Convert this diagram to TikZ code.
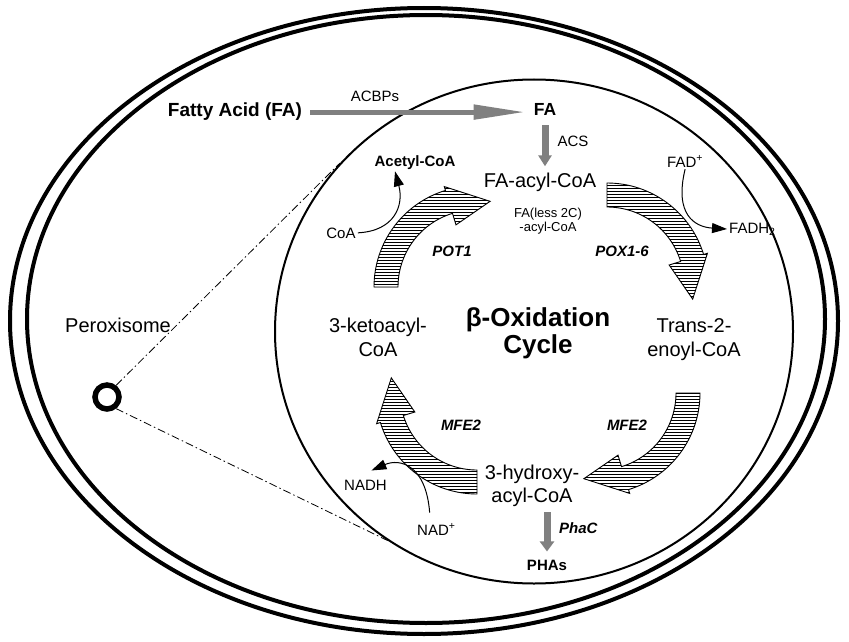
\documentclass[tikz,border=0pt]{standalone}
\usepackage{fontspec}
\setmainfont{Liberation Sans}
\usetikzlibrary{arrows.meta,calc,shapes.geometric}

% outline of a curved arrow of the cycle: #1 centre, #2 angle of its base
\newcommand{\arrowpath}[2]{($(#1)+(#2:101)$) arc[start angle=#2, end angle=#2-73, radius=101]
    -- ($(#1)+(#2-73:105)$) -- ($(#1)+(#2-100:87)$) -- ($(#1)+(#2-73:65)$)
    -- ($(#1)+(#2-73:77)$) arc[start angle=#2-73, end angle=#2, radius=77] -- cycle}
% the same arrow, hatched
\newcommand{\cyclearrow}[2]{%
  \begin{scope}
    \clip \arrowpath{#1}{#2};
    \foreach \k in {-120,-117,...,120}
      \draw[hatch] ($(#1)+(-120,\k)$) -- ++(240,0);
  \end{scope}
  \draw[arrowline] \arrowpath{#1}{#2};}

\begin{document}
\begin{tikzpicture}[x=1pt,y=1pt,
  membrane/.style={line width=4pt},
  hatch/.style={line width=0.9pt},
  arrowline/.style={line width=0.9pt, line join=miter},
  flux/.style={draw=black!50, line width=#1},
  react/.style={line width=1pt, -{Triangle[length=15pt,width=10pt]}},
  zoomline/.style={line width=0.8pt, dash pattern=on 8pt off 3pt on 1.5pt off 3pt},
  met/.style={font=\fontsize{20}{24}\selectfont, align=center, inner sep=2pt},
  small/.style={font=\fontsize{15}{17}\selectfont, inner sep=2pt},
  enz/.style={font=\bfseries\itshape\fontsize{15}{17}\selectfont, inner sep=2pt}]

\path[use as bounding box, fill=white] (0,0) rectangle (849,-642);

% cell membranes
\draw[membrane] (424,-321) ellipse [x radius=414, y radius=313];
\draw[membrane] (426,-319) ellipse [x radius=399, y radius=304];

% peroxisome and its close-up
\node[ellipse, draw, line width=2pt, minimum width=518pt, minimum height=504pt] (perox) at (534,-331.5) {};
\node[circle, draw, line width=5.5pt, minimum size=24pt, inner sep=0pt] (ring) at (107,-397) {};
\draw[zoomline] (ring.52) -- (perox.139);
\draw[zoomline] (ring.-52) -- (perox.235);
\node[met, anchor=base west] (pxlabel) at (63,-332) {Peroxisome};

% cycle arrows
\coordinate (c1) at (475,-287);
\coordinate (c2) at (607,-284);
\coordinate (c3) at (599,-393);
\coordinate (c4) at (477,-393);
\cyclearrow{c1}{180}
\cyclearrow{c2}{90}
\cyclearrow{c3}{0}
\cyclearrow{c4}{-90}

% metabolites
\node[font=\bfseries\fontsize{19}{22}\selectfont, anchor=base, inner sep=2pt] (ffa) at (235,-117) {Fatty Acid (FA)};
\node[small, anchor=base] (acbp) at (375,-101) {ACBPs};
\node[font=\bfseries\fontsize{17.5}{20}\selectfont, anchor=base, inner sep=2pt] (fa) at (545,-115) {FA};
\node[small, anchor=base] (acs) at (573,-146) {ACS};
\node[met, anchor=base] (facoa) at (540,-187) {FA-acyl-CoA};
\node[font=\fontsize{13}{14}\selectfont, align=center, anchor=base, inner sep=2pt] (less) at (548,-231) {FA(less 2C)\\-acyl-CoA};
\node[font=\bfseries\fontsize{15}{17}\selectfont, anchor=base, inner sep=2pt] (acetyl) at (415,-166) {Acetyl-CoA};
\node[small, anchor=base] (coa) at (341,-238) {CoA};
\node[small, anchor=base west] (fad) at (665,-167) {FAD\textsuperscript{+}};
\node[small, anchor=base west] (fadh) at (727,-233) {FADH\textsubscript{2}};
\node[enz, anchor=base] (pox) at (622,-256) {POX1-6};
\node[enz, anchor=base] (pot) at (452,-256) {POT1};
\node[met, anchor=base] (keto) at (378,-356) {3-ketoacyl-\\CoA};
\node[met, anchor=base] (trans) at (694,-356) {Trans-2-\\enoyl-CoA};
\node[font=\bfseries\fontsize{26}{27}\selectfont, align=center, anchor=base, inner sep=2pt] (title) at (538,-353) {β-Oxidation\\Cycle};
\node[enz, anchor=base] (mfel) at (461,-430) {MFE2};
\node[enz, anchor=base] (mfer) at (627,-430) {MFE2};
\node[font=\fontsize{20}{23}\selectfont, align=center, anchor=base, inner sep=2pt] (hydroxy) at (532,-502) {3-hydroxy-\\acyl-CoA};
\node[small, anchor=base west] (nadh) at (342,-490) {NADH};
\node[small, anchor=base west] (nad) at (415,-535) {NAD\textsuperscript{+}};
\node[enz, anchor=base west] (phac) at (557,-533) {PhaC};
\node[font=\bfseries\fontsize{15}{17}\selectfont, anchor=base, inner sep=2pt] (phas) at (547,-570) {PHAs};

% fluxes
\draw[flux=5pt, -{Triangle[length=52pt,width=14pt]}, shorten <=6pt, shorten >=6pt] (ffa.east) -- (ffa.east -| fa.west);
\draw[flux=7pt, -{Triangle[length=11pt,width=13pt]}, shorten <=8pt, shorten >=4pt] (fa.south) -- (fa.south |- facoa.north);
\draw[flux=7pt, -{Triangle[length=10pt,width=14pt]}, shorten <=4pt, shorten >=6pt] (phas.north |- hydroxy.south) -- (phas.north);

% cofactors
\draw[react] (coa.east) .. controls (395,-231) and (404,-205) .. ([xshift=-20pt]acetyl.south);
\draw[react] (fad.south) .. controls (674,-215) and (695,-227) .. (fadh.west);
\draw[react, shorten <=9pt] ([xshift=-6pt]nad.north) .. controls (426,-465) and (400,-458) .. ([shift={(6pt,7pt)}]nadh.north);

\end{tikzpicture}
\end{document}
